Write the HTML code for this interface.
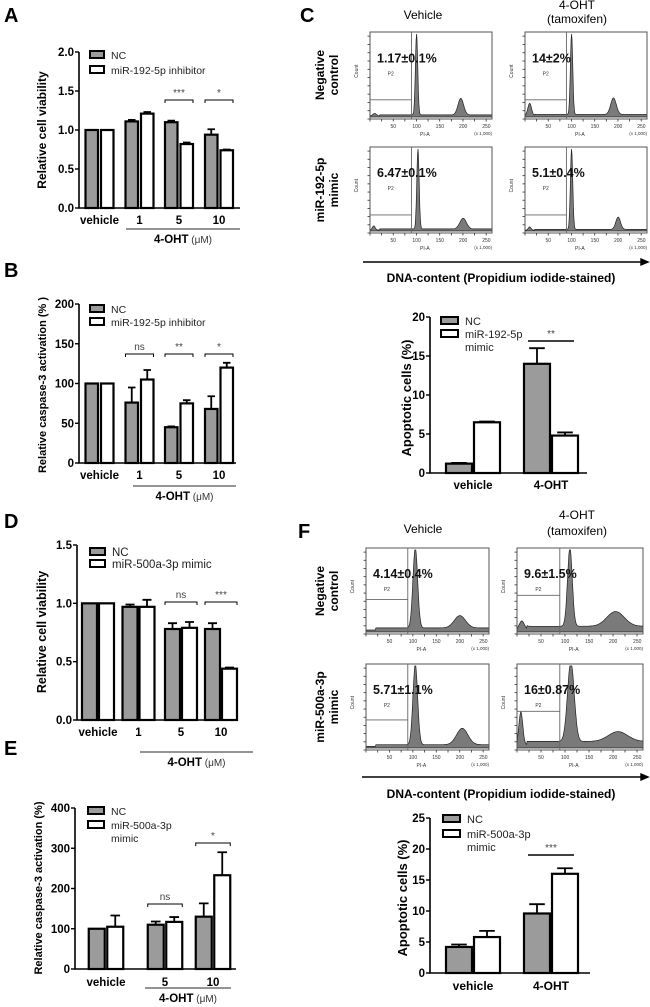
<!DOCTYPE html>
<html><head><meta charset="utf-8">
<style>
html,body{margin:0;padding:0;background:#fff;}
svg{display:block;font-family:"Liberation Sans",Arial,sans-serif;}
</style></head>
<body>
<svg id="fig" width="650" height="1007" viewBox="0 0 650 1007" xmlns="http://www.w3.org/2000/svg">
<g id="static">
<text x="4" y="22" font-size="20" font-weight="bold">A</text>
<text x="4" y="277" font-size="20" font-weight="bold">B</text>
<text x="300" y="22" font-size="20" font-weight="bold">C</text>
<text x="4" y="528" font-size="20" font-weight="bold">D</text>
<text x="4" y="755" font-size="20" font-weight="bold">E</text>
<text x="298" y="538" font-size="20" font-weight="bold">F</text>
</g>
</svg>
<script>
// ===== Data =====
const catsA = ["vehicle","1","5","10"];
const ncA = [1.0,1.11,1.10,0.94];
const ncErrA = [0,0.02,0.02,0.07];
const trtA = [1.0,1.21,0.82,0.74];
const trtErrA = [0,0.02,0.02,0.01];
const ticksA = [0,0.5,1.0,1.5,2.0];
const tickLabelsA = ["0.0","0.5","1.0","1.5","2.0"];
const sigA = [{g:2,t:"***"},{g:3,t:"*"}];

const catsB = ["vehicle","1","5","10"];
const ncB = [100,76,45,68];
const ncErrB = [0,19,1,16];
const trtB = [100,105,75,120];
const trtErrB = [0,12,4,6];
const ticksB = [0,50,100,150,200];
const tickLabelsB = ["0","50","100","150","200"];
const sigB = [{g:1,t:"ns"},{g:2,t:"**"},{g:3,t:"*"}];

const catsC = ["vehicle","4-OHT"];
const ncC = [1.2,14];
const ncErrC = [0.1,2];
const trtC = [6.5,4.8];
const trtErrC = [0.1,0.4];
const ticksC = [0,5,10,15,20];
const tickLabelsC = ["0","5","10","15","20"];

const catsD = ["vehicle","1","5","10"];
const ncD = [1.0,0.97,0.78,0.78];
const ncErrD = [0,0.02,0.05,0.05];
const trtD = [1.0,0.97,0.79,0.44];
const trtErrD = [0,0.06,0.05,0.01];
const ticksD = [0,0.5,1.0,1.5];
const tickLabelsD = ["0.0","0.5","1.0","1.5"];
const sigD = [{g:2,t:"ns"},{g:3,t:"***"}];

const catsE = ["vehicle","5","10"];
const ncE = [100,110,130];
const ncErrE = [0,8,33];
const trtE = [105,117,233];
const trtErrE = [28,12,57];
const ticksE = [0,100,200,300,400];
const tickLabelsE = ["0","100","200","300","400"];

const catsF = ["vehicle","4-OHT"];
const ncF = [4.2,9.6];
const ncErrF = [0.4,1.5];
const trtF = [5.8,16.0];
const trtErrF = [1.0,0.9];
const ticksF = [0,5,10,15,20,25];
const tickLabelsF = ["0","5","10","15","20","25"];

// histogram peaks: [position(x1000), relative height, width]
const histC = [
 {pct:"1.17±0.1%", peaks:[[100,0.98,2.5],[195,0.2,6],[10,0.03,4]], base:0.025},
 {pct:"14±2%", peaks:[[100,0.98,2.5],[190,0.2,6],[10,0.15,4]], base:0.03},
 {pct:"6.47±0.1%", peaks:[[103,0.98,2.5],[200,0.13,7],[8,0.05,3]], base:0.025},
 {pct:"5.1±0.4%", peaks:[[100,0.98,2.5],[200,0.15,5],[10,0.04,3]], base:0.02}
];
const histF = [
 {pct:"4.14±0.4%", peaks:[[105,0.98,5],[200,0.15,12]], base:0.05},
 {pct:"9.6±1.5%", peaks:[[110,0.95,5],[205,0.18,18],[10,0.1,5]], base:0.07},
 {pct:"5.71±1.1%", peaks:[[105,0.98,5],[205,0.2,12]], base:0.04},
 {pct:"16±0.87%", peaks:[[112,0.97,7],[210,0.12,20],[8,0.4,4]], base:0.08}
];

// ===== Drawing =====
const NS = "http://www.w3.org/2000/svg";
const svg = document.getElementById("fig");
function mk(tag, parent){ const e=document.createElementNS(NS,tag); parent.appendChild(e); return e; }
function setA(e, o){ for(const k in o) e.setAttribute(k,o[k]); return e; }

function barChart(id, cfg, cats, nc, ncErr, trt, trtErr, ticks, tickLabels, sigs){
  const g = mk("g", svg);
  
  
  const yS = v => cfg.y0 - (v/cfg.vmax)*(cfg.y0-cfg.y1);
  const ax = mk("path", g);
  setA(ax,{d:`M${cfg.ax} ${cfg.y1} V${cfg.y0} H${cfg.axEnd}`,stroke:"#000","stroke-width":1.6,fill:"none"});
  
  
  ticks.forEach((t,i)=>{
    const tk = mk("line", g);
    setA(tk,{x1:cfg.ax-4,x2:cfg.ax,y1:yS(t),y2:yS(t),stroke:"#000","stroke-width":1.4});
    
    
    const tl = mk("text", g);
    setA(tl,{x:cfg.ax-5,y:yS(t)+4,"font-size":11.5,"font-weight":"bold","text-anchor":"end"});
    tl.textContent = tickLabels[i];
    
    
  });
  const yt = mk("text", g);
  setA(yt,{x:0,y:0,"font-size":cfg.ytSize||12,"font-weight":"bold","text-anchor":"middle",transform:`translate(${cfg.ytX},${cfg.ytY}) rotate(-90)`});
  yt.textContent = cfg.ytitle;
  
  
  cats.forEach((c,i)=>{
    const cx = cfg.centers[i];
    [[nc,ncErr,"#9b9b9b",cx-cfg.gap/2-cfg.bw,"bar-nc"],[trt,trtErr,"#fff",cx+cfg.gap/2,"bar-treatment"]].forEach(([vals,errs,fill,x,nm])=>{
      const v = vals[i], e = errs[i];
      if(e>0){
        const el = mk("path", g);
        const mx = x+cfg.bw/2, cap=cfg.bw*0.3;
        setA(el,{d:`M${mx} ${yS(v)} V${yS(v+e)} M${mx-cap} ${yS(v+e)} H${mx+cap}`,stroke:"#000","stroke-width":1.8,fill:"none"});
        
        
      }
      const r = mk("rect", g);
      setA(r,{x:x,y:yS(v),width:cfg.bw,height:cfg.y0-yS(v),fill:fill,stroke:"#000","stroke-width":2.2});
      
      
    });
    const cl = mk("text", g);
    setA(cl,{x:cx,y:cfg.catY,"font-size":cfg.catSize||11.5,"font-weight":"bold","text-anchor":"middle"});
    cl.textContent = c;
    
    
  });
  if(cfg.ulY){
    const ul = mk("line", g);
    setA(ul,{x1:cfg.ulX1,x2:cfg.ulX2,y1:cfg.ulY,y2:cfg.ulY,stroke:"#555","stroke-width":1.2});
    
    
    const ut = mk("text", g);
    setA(ut,{x:(cfg.ulX1+cfg.ulX2)/2,y:cfg.ulY+14,"font-size":11.5,"text-anchor":"middle"});
    ut.innerHTML = '<tspan font-weight="bold">4-OHT</tspan><tspan font-size="10" fill="#333"> (μM)</tspan>';
    
    
  }
  (sigs||[]).forEach(s=>{
    const cx = cfg.centers[s.g];
    const x1 = cx-cfg.gap/2-cfg.bw, x2 = cx+cfg.gap/2+cfg.bw;
    const by = s.y!==undefined ? s.y : cfg.sigY;
    const b = mk("path", g);
    setA(b,{d: cfg.flat ? `M${x1+4} ${by} H${x2-4}` : `M${x1} ${by+3} V${by} H${x2} V${by+3}`,stroke:"#000","stroke-width":cfg.flat?1.5:1,fill:"none"});
    
    
    const st = mk("text", g);
    setA(st,{x:(x1+x2)/2,y:by-4,"font-size":10,"text-anchor":"middle",fill:"#444"});
    st.textContent = s.t;
    
    
  });
  const lg = mk("g", g);
  
  
  cfg.legend.forEach((L,i)=>{
    const r = mk("rect", lg);
    setA(r,{x:cfg.lgX,y:L.y-4,width:cfg.lgW||14,height:7,fill:i===0?"#9b9b9b":"#fff",stroke:"#000","stroke-width":2});
    
    
    L.lines.forEach((ln,j)=>{
      const t = mk("text", lg);
      setA(t,{x:cfg.lgX+(cfg.lgW||14)+7,y:L.y+4+j*13,"font-size":cfg.lgSize||10.5,fill:"#222"});
      t.textContent = ln;
      
      
    });
  });
}

barChart("chart-a",{ax:79,y0:208,y1:52,vmax:2,axEnd:240,centers:[99.5,139.5,179,219],bw:12.5,gap:3,catY:224,
  ulY:229,ulX1:126,ulX2:240,sigY:100,ytitle:"Relative cell viability",ytX:46,ytY:130,
  lgX:90,legend:[{y:55,lines:["NC"]},{y:70,lines:["miR-192-5p inhibitor"]}]},
  catsA,ncA,ncErrA,trtA,trtErrA,ticksA,tickLabelsA,sigA);

barChart("chart-b",{ax:79,y0:463,y1:304,vmax:200,axEnd:236,centers:[99.5,139.5,179,219],bw:12.5,gap:3,catY:479,
  ulY:486,ulX1:133,ulX2:236,sigY:354,ytitle:"Relative caspase-3 activation (% )",ytSize:11,ytX:46,ytY:385,
  lgX:90,legend:[{y:309,lines:["NC"]},{y:322,lines:["miR-192-5p inhibitor"]}]},
  catsB,ncB,ncErrB,trtB,trtErrB,ticksB,tickLabelsB,sigB);

barChart("chart-d",{ax:77,y0:720,y1:545,vmax:1.5,axEnd:238,centers:[98,138.5,181,221],bw:15,gap:2,catY:736,
  ulY:752,ulX1:140,ulX2:253,sigY:602,ytitle:"Relative cell viability",ytX:46,ytY:632,ytSize:12.5,
  lgX:90,lgW:15,lgSize:11.5,legend:[{y:552,lines:["NC"]},{y:564,lines:["miR-500a-3p mimic"]}]},
  catsD,ncD,ncErrD,trtD,trtErrD,ticksD,tickLabelsD,sigD);

barChart("chart-e",{ax:75,y0:969,y1:808,vmax:400,axEnd:236,centers:[106,165,213],bw:16,gap:2.5,catY:986,
  ulY:988,ulX1:145,ulX2:231,sigY:0,ytitle:"Relative caspase-3 activation (%)",ytSize:11,ytX:42,ytY:888,
  lgX:88,lgW:16,legend:[{y:811,lines:["NC"]},{y:825,lines:["miR-500a-3p","mimic"]}]},
  catsE,ncE,ncErrE,trtE,trtErrE,ticksE,tickLabelsE,[{g:1,t:"ns",y:904},{g:2,t:"*",y:843}]);

barChart("chart-c-bars",{ax:430,y0:473,y1:317,vmax:20,axEnd:587,centers:[473,551],bw:26,gap:2,catY:489,
  sigY:341,flat:true,ytitle:"Apoptotic cells (%)",ytSize:13,ytX:411,ytY:398,
  lgX:441,lgW:17,lgSize:11,legend:[{y:321,lines:["NC"]},{y:334,lines:["miR-192-5p","mimic"]}]},
  catsC,ncC,ncErrC,trtC,trtErrC,ticksC,tickLabelsC,[{g:1,t:"**"}]);

barChart("chart-f-bars",{ax:430,y0:973,y1:818,vmax:25,axEnd:590,centers:[473,551],bw:26,gap:2,catY:990,catSize:12,
  sigY:855,flat:true,ytitle:"Apoptotic cells (%)",ytSize:13,ytX:407,ytY:898,
  lgX:443,lgW:17,lgSize:11,legend:[{y:819,lines:["NC"]},{y:834,lines:["miR-500a-3p","mimic"]}]},
  catsF,ncF,ncErrF,trtF,trtErrF,ticksF,tickLabelsF,[{g:1,t:"***"}]);

function hist(name, bx, by, bw, bh, h, gateFrac){
  const g = mk("g", svg);
  
  
  const xS = d => bx + d/262*bw;
  const base = by+bh-2;
  let d = `M${bx} ${base}`;
  for(let p=1;p<=262;p+=1){
    let v = h.base*(p>20?1:0.5);
    h.peaks.forEach(([c,a,w])=>{ v += a*Math.exp(-((p-c)*(p-c))/(2*w*w)); });
    if(v>1) v=1;
    d += ` L${xS(p).toFixed(1)} ${(base-v*(bh-4)).toFixed(1)}`;
  }
  d += ` L${bx+bw} ${base} Z`;
  const area = mk("path", g);
  setA(area,{d:d,fill:"#7a7a7a",stroke:"#222","stroke-width":0.7});
  
  
  const box = mk("rect", g);
  setA(box,{x:bx,y:by,width:bw,height:bh,fill:"none",stroke:"#555","stroke-width":1});
  
  
  const gx = xS(89);
  const gate = mk("path", g);
  setA(gate,{d:`M${gx} ${by} V${by+bh} M${bx} ${by+bh*gateFrac} H${gx}`,stroke:"#666","stroke-width":0.9,fill:"none"});
  
  
  [50,100,150,200,250].forEach(t=>{
    const tl = mk("text", g);
    setA(tl,{x:xS(t),y:by+bh+9,"font-size":5,"text-anchor":"middle",fill:"#333"});
    tl.textContent = t;
    
    
  });
  for(let t=0;t<=10;t++){
    const tk = mk("line", g);
    setA(tk,{x1:bx+t*bw/10.5,x2:bx+t*bw/10.5,y1:by+bh,y2:by+bh+2.5,stroke:"#333","stroke-width":0.8});
    
    
    const yk = mk("line", g);
    setA(yk,{x1:bx-2.5,x2:bx,y1:by+bh-t*bh/10.5,y2:by+bh-t*bh/10.5,stroke:"#333","stroke-width":0.8});
    
    
  }
  const xl = mk("text", g);
  setA(xl,{x:bx+bw*0.45,y:by+bh+17,"font-size":5,"text-anchor":"middle",fill:"#333"});
  xl.textContent = "PI-A";
  
  
  const xu = mk("text", g);
  setA(xu,{x:bx+bw,y:by+bh+16,"font-size":4.5,"text-anchor":"end",fill:"#333"});
  xu.textContent = "(x 1,000)";
  
  
  const yl = mk("text", g);
  setA(yl,{x:0,y:0,"font-size":5,"text-anchor":"middle",fill:"#333",transform:`translate(${bx-12},${by+bh*0.45}) rotate(-90)`});
  yl.textContent = "Count";
  
  
  const p2 = mk("text", g);
  setA(p2,{x:bx+bw*0.17,y:by+bh*0.5,"font-size":5,"text-anchor":"middle",fill:"#333"});
  p2.textContent = "P2";
  
  
  const pc = mk("text", g);
  setA(pc,{x:bx+7,y:by+bh*0.35,"font-size":12.5,"font-weight":"bold",fill:"#111"});
  pc.textContent = h.pct;
  
  
}
hist("histogram-c-nc-vehicle",370,32,122,87,histC[0],0.78);
hist("histogram-c-nc-4oht",525,32,122,87,histC[1],0.78);
hist("histogram-c-mimic-vehicle",370,147,122,86,histC[2],0.79);
hist("histogram-c-mimic-4oht",525,147,122,86,histC[3],0.79);
hist("histogram-f-nc-vehicle",366,548,123,86,histF[0],0.6);
hist("histogram-f-nc-4oht",517,548,126,86,histF[1],0.55);
hist("histogram-f-mimic-vehicle",366,664,123,86,histF[2],0.65);
hist("histogram-f-mimic-4oht",517,664,126,86,histF[3],0.55);

function txt(name, x, y, s, size, bold, rot, anchor){
  const t = mk("text", svg);
  setA(t,{x:rot?0:x,y:rot?0:y,"font-size":size,"text-anchor":anchor||"middle"});
  if(bold) t.setAttribute("font-weight","bold");
  if(rot) t.setAttribute("transform",`translate(${x},${y}) rotate(-90)`);
  t.textContent = s;
  
  
}
txt("column-title-vehicle",423,19,"Vehicle",12);
txt("column-title-4oht",577,9,"4-OHT",12);
txt("column-title-tamoxifen",577,23,"(tamoxifen)",12);
txt("row-label-negative",324,75,"Negative",12,true,true);
txt("row-label-control",338,75,"control",12,true,true);
txt("row-label-mir192",324,190,"miR-192-5p",12,true,true);
txt("row-label-mimic",338,190,"mimic",12,true,true);
txt("dna-content-label",501,282,"DNA-content (Propidium iodide-stained)",12,true);
txt("column-title-vehicle-f",423,533,"Vehicle",12);
txt("column-title-4oht-f",577,519,"4-OHT",12);
txt("column-title-tamoxifen-f",577,535,"(tamoxifen)",12);
txt("row-label-negative-f",324,591,"Negative",12,true,true);
txt("row-label-control-f",338,591,"control",12,true,true);
txt("row-label-mir500",324,707,"miR-500a-3p",12,true,true);
txt("row-label-mimic-f",338,707,"mimic",12,true,true);
txt("dna-content-label-f",501,798,"DNA-content (Propidium iodide-stained)",12,true);

function arrow(name,x1,x2,y){
  const a = mk("path", svg);
  setA(a,{d:`M${x1} ${y} H${x2-6} M${x2-7} ${y-3} L${x2} ${y} L${x2-7} ${y+3} Z`,stroke:"#000","stroke-width":1.4,fill:"#000"});
  
  
}
arrow("dna-content-arrow",363,648,262);
arrow("dna-content-arrow-f",362,648,777);
</script>
</body></html>
